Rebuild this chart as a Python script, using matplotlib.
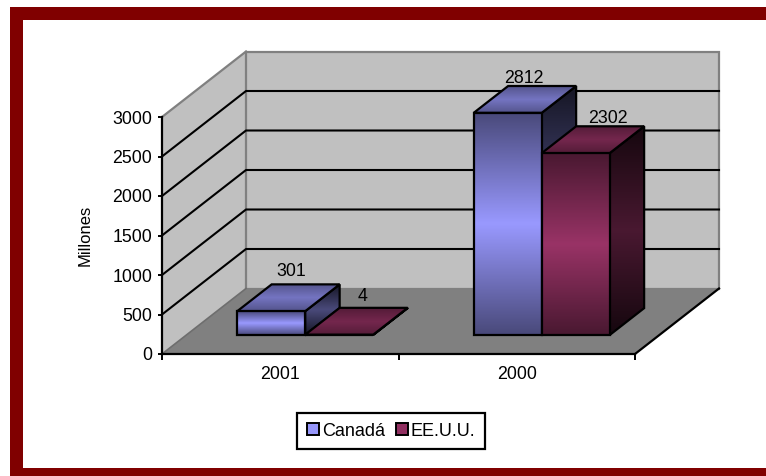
# -*- coding: UTF-8 -*-
import numpy as np
import matplotlib
matplotlib.use('Agg')
import matplotlib.pyplot as plt
from matplotlib.patches import Polygon, Rectangle, Patch

plt.rcParams['font.family'] = ['Liberation Sans', 'DejaVu Sans']

years = ['2001', '2000']
canada = [301, 2812]
eeuu = [4, 2302]
series_names = ['Canadá', 'EE.U.U.']
y_ticks = [0, 500, 1000, 1500, 2000, 2500, 3000]

W, H = 766, 476
blue = np.array([153, 153, 255]) / 255
maroon = np.array([153, 51, 102]) / 255

fig = plt.figure(figsize=(W / 100, H / 100), dpi=100)
fig.patch.set_facecolor('white')

# marco rojo (no hay lado derecho)
for x0, y0, x1, y1 in [(10, 7, W, 20), (10, 7, 23, 476), (10, 468, W, 476)]:
    fig.add_artist(Rectangle((x0 / W, 1 - y1 / H), (x1 - x0) / W, (y1 - y0) / H,
                             transform=fig.transFigure, fc='#800000', ec='none'))

# plano frontal del grafico en pixeles
left, right, bottom, top = 162, 635, 354, 117
ax = fig.add_axes([left / W, 1 - bottom / H, (right - left) / W, (bottom - top) / H])
ax.patch.set_visible(False)

# desplazamiento de profundidad en unidades de datos
dx = 84 / ((right - left) / 2)
dy = 65.5 / (bottom - top) * 3000
bar_w = 0.2875
bar_x0 = 0.215
d_front, d_back = 0.29, 0.70


def pt(x, v, d):
    return (x + d * dx, v + d * dy)


def flat(verts, fc, ec='none', lw=0, z=1):
    ax.add_patch(Polygon(verts, closed=True, fc=fc, ec=ec, lw=lw, zorder=z, clip_on=False))


def face(verts, color, lo, hi, z):
    # relleno degradado: oscuro en los extremos, claro en el centro
    t = np.linspace(-1, 1, 128)
    k = hi - (hi - lo) * np.abs(t)
    img = (k[:, None, None] * color[None, None, :]).clip(0, 1)
    vs = np.array(verts)
    im = ax.imshow(img, extent=(vs[:, 0].min(), vs[:, 0].max(), vs[:, 1].min(), vs[:, 1].max()),
                   origin='lower', aspect='auto', interpolation='bilinear', zorder=z)
    im.set_clip_box(fig.bbox)
    im.set_clip_path(Polygon(verts, closed=True, transform=ax.transData))
    ax.add_patch(Polygon(verts, closed=True, fc='none', ec='black', lw=1.6, zorder=z + 0.1,
                         clip_on=False, joinstyle='miter'))


# paredes y suelo
flat([pt(0, 0, 0), pt(0, 0, 1), pt(0, 3000, 1), pt(0, 3000, 0)], '#C0C0C0', z=1)
flat([pt(0, 0, 1), pt(2, 0, 1), pt(2, 3000, 1), pt(0, 3000, 1)], '#C0C0C0', '#808080', 1.6, z=1)
flat([pt(0, 0, 0), pt(2, 0, 0), pt(2, 0, 1), pt(0, 0, 1)], '#808080', z=1.5)
ax.plot(*zip(pt(0, 3000, 0), pt(0, 3000, 1)), color='#808080', lw=1.6, zorder=2, clip_on=False)
ax.plot(*zip(pt(0, 0, 0), pt(0, 0, 1)), color='#6e6e6e', lw=1.2, zorder=2, clip_on=False)
ax.plot(*zip(pt(2, 0, 0), pt(2, 0, 1)), color='black', lw=1.6, zorder=2, clip_on=False)

# rejilla sobre las dos paredes
for v in y_ticks[1:-1]:
    ax.plot(*zip(pt(0, v, 0), pt(0, v, 1), pt(2, v, 1)), color='black', lw=1.5, zorder=2,
            clip_on=False)

# barras
z = 3
for i, vals in enumerate(zip(canada, eeuu)):
    for j, (v, col) in enumerate(zip(vals, [blue, maroon])):
        x0 = i + bar_x0 + j * bar_w
        x1 = x0 + bar_w
        side = [pt(x1, 0, d_front), pt(x1, 0, d_back), pt(x1, v, d_back), pt(x1, v, d_front)]
        roof = [pt(x0, v, d_front), pt(x1, v, d_front), pt(x1, v, d_back), pt(x0, v, d_back)]
        front = [pt(x0, 0, d_front), pt(x1, 0, d_front), pt(x1, v, d_front), pt(x0, v, d_front)]
        face(side, col, 0.14, 0.48, z)
        face(roof, col, 0.55, 0.76, z + 1)
        face(front, col, 0.48, 1.0, z + 2)
        z += 3

# etiquetas de valor, ajuste a mano en pixeles
nudges = [[(-14, 13), (-11, 11)], [(-18, 8), (-2, 8)]]
for i, vals in enumerate(zip(canada, eeuu)):
    for j, v in enumerate(vals):
        x = i + bar_x0 + (j + 0.5) * bar_w
        ax.annotate(str(v), pt(x, v, d_back), xytext=nudges[i][j], textcoords='offset pixels',
                    ha='center', va='center', fontsize=12.8, color='black', zorder=40,
                    annotation_clip=False)

ax.set_xlim(0, 2)
ax.set_ylim(0, 3000)
for s in ['top', 'right']:
    ax.spines[s].set_visible(False)
for s in ['left', 'bottom']:
    ax.spines[s].set_linewidth(1.6)
    ax.spines[s].set_zorder(30)
ax.set_yticks(y_ticks)
ax.set_xticks([0, 1, 2])
ax.set_xticklabels([])
ax.set_xticks([0.5, 1.5], minor=True)
ax.set_xticklabels(years, minor=True)
ax.tick_params(axis='x', which='major', length=4, width=1.4, direction='out')
ax.tick_params(axis='x', which='minor', length=0, pad=8.5, labelsize=12.8)
ax.tick_params(axis='y', length=3, width=1.4, pad=4, labelsize=12.8)
ax.set_ylabel('Millones', fontsize=12, labelpad=14.5)

handles = [Patch(fc=blue * 0.98, ec='black', lw=1.4), Patch(fc=maroon * 0.95, ec='black', lw=1.4)]
leg = ax.legend(handles, series_names, loc='center left', bbox_to_anchor=(297 / W, 1 - 431 / H),
                bbox_transform=fig.transFigure, ncol=2, fontsize=13, frameon=True,
                fancybox=False, framealpha=1, edgecolor='black', handlelength=0.68,
                handleheight=0.68, handletextpad=0.15, columnspacing=0.6, borderpad=0.55,
                borderaxespad=0)
leg.get_frame().set_linewidth(1.6)

fig.savefig('out.png', dpi=100)
